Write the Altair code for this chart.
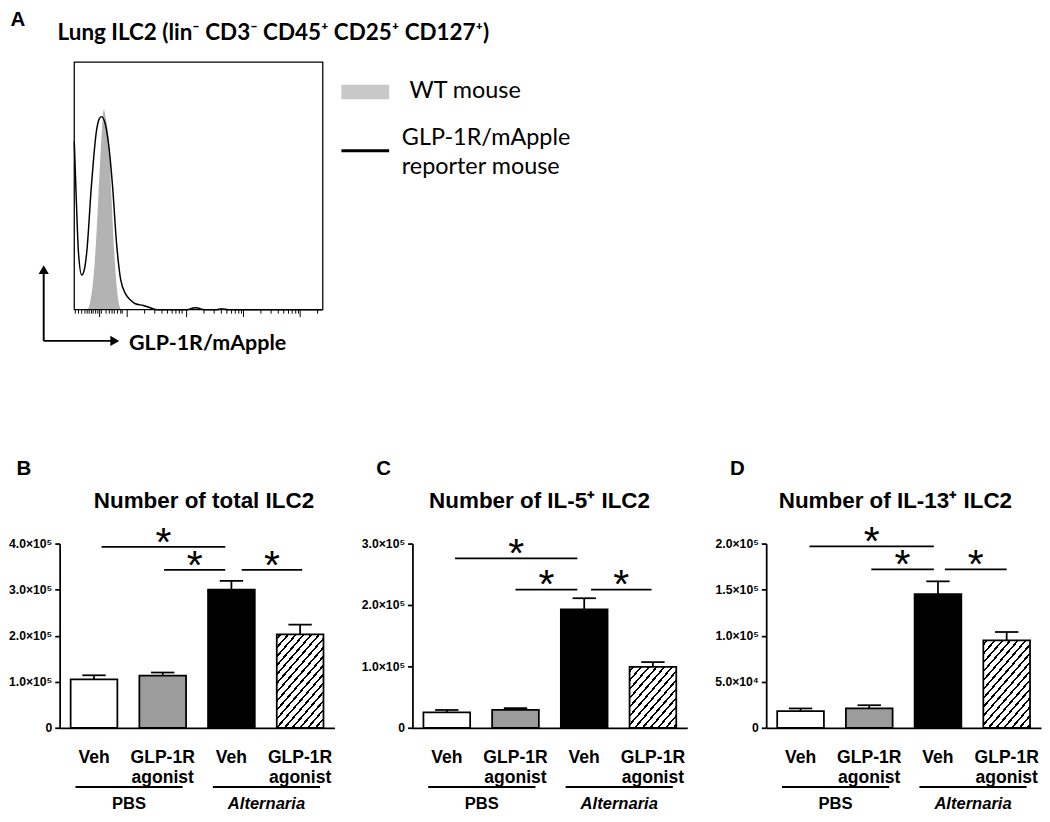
import json
import altair as alt
import pandas as pd

# ---------------- Panel A : flow histogram ----------------
wt_x = [5.5, 6.9, 8.0, 8.9, 10.2, 11.2, 11.9, 12.6, 14.1, 15.0, 16.1, 17.2, 18.7]
wt_y = [0.0, 0.06, 0.16, 0.30, 0.56, 0.74, 0.81, 0.78, 0.65, 0.45, 0.23, 0.08, 0.0]

rep_x = [0, 0.8, 1.7, 3.0, 4.0, 5.0, 6.9, 8.9, 10.0, 10.9, 12.2, 13.8, 15.4, 17.0,
         18.7, 20.7, 22.5, 24.6, 27.8, 30.5, 33.1, 45.5, 47.5, 48.7, 50.0, 52.2,
         57.3, 59.2, 62.0, 100]
rep_y = [0.68, 0.45, 0.23, 0.14, 0.16, 0.23, 0.50, 0.72, 0.77, 0.78, 0.76, 0.67,
         0.50, 0.27, 0.12, 0.063, 0.04, 0.024, 0.017, 0.008, 0.0, 0.0, 0.006,
         0.008, 0.006, 0.0, 0.0, 0.004, 0.0, 0.0]

hist_minor_ticks = [0.4, 1.7, 3.0, 4.3, 5.2, 6.0, 6.9, 7.6, 8.6, 9.5, 10.9, 12.8,
                    14.1, 15.2, 16.1, 17.4, 18.7, 19.3,
                    28.3, 32.4, 35.3, 37.5, 39.4, 40.9, 42.3, 43.4,
                    52.2, 56.3, 59.2, 61.4, 63.3, 64.8, 66.2, 67.3,
                    75.1, 79.2, 82.1, 84.3, 86.2, 87.7, 89.1, 90.2, 97.9]
hist_major_ticks = [10.2, 21.3, 45.2, 68.1, 90.9]

panel_a_letter = "A"
panel_a_title = "Lung ILC2 (lin\u207b CD3\u207b CD45\u207a CD25\u207a CD127\u207a)"
panel_a_xlabel = "GLP-1R/mApple"
legend_wt = "WT mouse"
legend_rep = ["GLP-1R/mApple", "reporter mouse"]

# ---------------- Panels B-D : bar charts ----------------
treatments = ["Veh", "GLP-1R\nagonist", "Veh", "GLP-1R\nagonist"]
conditions = ["PBS", "Alternaria"]
bar_fills = ["white", "#9c9c9c", "black", "hatch"]

b_mean = [1.05e5, 1.13e5, 3.00e5, 2.03e5]
b_err = [0.09e5, 0.07e5, 0.19e5, 0.21e5]
c_mean = [2.5e4, 2.9e4, 1.93e5, 0.99e5]
c_err = [0.4e4, 0.3e4, 0.18e5, 0.08e5]
d_mean = [1.8e4, 2.1e4, 1.45e5, 0.95e5]
d_err = [0.3e4, 0.35e4, 0.14e5, 0.09e5]

b_ticks = [0, 100000, 200000, 300000, 400000]
b_tick_labels = ["0", "1.0\u00d710\u2075", "2.0\u00d710\u2075", "3.0\u00d710\u2075", "4.0\u00d710\u2075"]
c_ticks = [0, 100000, 200000, 300000]
c_tick_labels = ["0", "1.0\u00d710\u2075", "2.0\u00d710\u2075", "3.0\u00d710\u2075"]
d_ticks = [0, 50000, 100000, 150000, 200000]
d_tick_labels = ["0", "5.0\u00d710\u2074", "1.0\u00d710\u2075", "1.5\u00d710\u2075", "2.0\u00d710\u2075"]

# significance brackets (from bar index, to bar index, height)
b_br_x1 = [0.11, 1.02, 2.15]
b_br_x2 = [1.91, 1.91, 3.03]
b_br_y = [3.93e5, 3.43e5, 3.43e5]
c_br_x1 = [0.12, 1.00, 2.10]
c_br_x2 = [1.90, 1.90, 2.98]
c_br_y = [2.76e5, 2.25e5, 2.25e5]
d_br_x1 = [0.13, 1.03, 2.10]
d_br_x2 = [1.94, 1.94, 3.00]
d_br_y = [1.97e5, 1.72e5, 1.72e5]

ARIAL = "Liberation Sans"
CAL = "Lato"

# ---------------- helpers ----------------
def hatch_gradient(w_px, h_px, slope=1.15, spacing=6.0, thick=1.7):
    a = slope / h_px
    b = 1.0 / w_px
    k = (a + b) / (a * a + b * b)
    gx, gy = k * a, k * b
    L = (slope * w_px + h_px) / (1 + slope ** 2) ** 0.5
    n = L / spacing
    f = thick / L
    stops = [alt.GradientStop(offset=0, color="white")]
    j = 0
    while True:
        c = (j + 0.5) / n
        s0 = max(0.0, c - f / 2)
        if s0 >= 1:
            break
        s1 = min(1.0, c + f / 2)
        stops += [alt.GradientStop(offset=s0, color="white"),
                  alt.GradientStop(offset=s0, color="black"),
                  alt.GradientStop(offset=s1, color="black"),
                  alt.GradientStop(offset=s1, color="white")]
        j += 1
    stops.append(alt.GradientStop(offset=1, color="white"))
    return alt.Gradient(gradient="linear", stops=stops, x1=0, y1=0, x2=gx, y2=gy)


def bar_panel(letter, title, means, errs, ticks, tick_labels, br_x1, br_x2, br_y,
              letter_x, title_x):
    W, H = 282, 189
    ymax = ticks[-1]
    xs = alt.Scale(domain=[-0.5, 3.5], nice=False, zero=False)
    ys = alt.Scale(domain=[0, ymax], nice=False, zero=True)
    expr = "%s[indexof(%s, datum.value)]" % (json.dumps(tick_labels, ensure_ascii=False),
                                             json.dumps(ticks))
    yaxis = alt.Axis(values=ticks, labelExpr=expr, title=None, grid=False,
                     domainColor="black", domainWidth=1.8, tickColor="black",
                     tickWidth=1.8, tickSize=5, labelFont=ARIAL, labelFontWeight="bold",
                     labelFontSize=12.5, labelColor="black", labelPadding=3)
    xaxis = alt.Axis(title=None, labels=False, ticks=False, grid=False,
                     domainColor="black", domainWidth=1.8)

    def X(f):
        return alt.X(f, scale=xs, axis=xaxis)

    def Y(f):
        return alt.Y(f, scale=ys, axis=yaxis)

    df = pd.DataFrame({"i": list(range(4)), "mean": means, "err": errs, "fill": bar_fills})
    base = alt.Chart(df).transform_calculate(
        lo="datum.i - 0.34", hi="datum.i + 0.34", zero="0",
        top="datum.mean + datum.err", clo="datum.i - 0.17", chi="datum.i + 0.17")

    bars = base.transform_filter("datum.i < 3").mark_rect(
        stroke="black", strokeWidth=1.8).encode(
        x=X("lo:Q"), x2="hi:Q", y=Y("mean:Q"), y2="zero:Q",
        fill=alt.Fill("fill:N", scale=None))

    grad = hatch_gradient(0.68 * W / 4, means[3] / ymax * H)
    hatch = base.transform_filter("datum.i == 3").mark_rect(
        stroke="black", strokeWidth=1.8, fill=grad).encode(
        x=X("lo:Q"), x2="hi:Q", y=Y("mean:Q"), y2="zero:Q")

    err_v = base.mark_rule(color="black", strokeWidth=1.8).encode(
        x=X("i:Q"), y=Y("mean:Q"), y2="top:Q")
    err_c = base.mark_rule(color="black", strokeWidth=1.8).encode(
        x=X("clo:Q"), x2="chi:Q", y=Y("top:Q"))

    bdf = pd.DataFrame({"x1": br_x1, "x2": br_x2, "y": br_y})
    brk = alt.Chart(bdf).mark_rule(color="black", strokeWidth=1.8).encode(
        x=X("x1:Q"), x2="x2:Q", y=Y("y:Q"))
    stars = alt.Chart(bdf).transform_calculate(mid="(datum.x1 + datum.x2) / 2").mark_text(
        text="*", font=ARIAL, fontSize=42, baseline="alphabetic", dy=9, color="black").encode(
        x=X("mid:Q"), y=Y("y:Q"))

    tdf = pd.DataFrame({"i": list(range(4)), "label": treatments})
    tlab = alt.Chart(tdf).transform_calculate(ly=str(-0.163 * ymax)).mark_text(
        font=ARIAL, fontSize=18, fontWeight="bold", baseline="middle", lineBreak="\n",
        lineHeight=21, color="black").encode(
        x=X("i:Q"), y=Y("ly:Q"), text="label:N")

    gdf = pd.DataFrame({"g": conditions, "start": [0, 2], "end": [1, 3]})
    gbase = alt.Chart(gdf).transform_calculate(
        gx1="datum.start - 0.27", gx2="datum.end + 0.29",
        gm="(datum.start + datum.end) / 2 + 0.01",
        gy=str(-0.321 * ymax), gty=str(-0.415 * ymax))
    glines = gbase.mark_rule(color="black", strokeWidth=2).encode(
        x=X("gx1:Q"), x2="gx2:Q", y=Y("gy:Q"))
    glab1 = gbase.transform_filter("datum.start == 0").mark_text(
        font=ARIAL, fontSize=17, fontWeight="bold", baseline="middle", color="black").encode(
        x=X("gm:Q"), y=Y("gty:Q"), text="g:N")
    glab2 = gbase.transform_filter("datum.start == 2").mark_text(
        font=ARIAL, fontSize=17, fontWeight="bold", fontStyle="italic", baseline="middle",
        color="black").encode(x=X("gm:Q"), y=Y("gty:Q"), text="g:N")

    hdf = pd.DataFrame({"x": [letter_x, title_x], "y": [1.404 * ymax, 1.229 * ymax],
                        "t": [letter, title], "k": ["letter", "title"]})
    let_t = alt.Chart(hdf).transform_filter("datum.k == 'letter'").mark_text(
        font=ARIAL, fontSize=21, fontWeight="bold", baseline="middle", color="black").encode(
        x=X("x:Q"), y=Y("y:Q"), text="t:N")
    tit_t = alt.Chart(hdf).transform_filter("datum.k == 'title'").mark_text(
        font=ARIAL, fontSize=23, fontWeight="bold", baseline="middle", color="black").encode(
        x=X("x:Q"), y=Y("y:Q"), text="t:N")

    return alt.layer(bars, hatch, err_v, err_c, brk, stars, tlab, glines, glab1, glab2,
                     let_t, tit_t).properties(width=W, height=H)


# ---------------- Panel A chart ----------------
# plot origin aligned with panel B's y axis and with the page top;
# the flow frame itself spans x 0..100, y 0..1
hx = alt.Scale(domain=[-5.88, 100], nice=False, zero=False)
hy = alt.Scale(domain=[0, 1.2126], nice=False, zero=False)


def HX(f):
    return alt.X(f, scale=hx, axis=None)


def HY(f):
    return alt.Y(f, scale=hy, axis=None)


wt_df = pd.DataFrame({"x": wt_x, "y": wt_y})
rep_df = pd.DataFrame({"x": rep_x, "y": rep_y})

wt_area = alt.Chart(wt_df).mark_area(color="#b3b3b3", interpolate="monotone").encode(
    x=HX("x:Q"), y=HY("y:Q"))
rep_line = alt.Chart(rep_df).mark_line(color="black", strokeWidth=1.5,
                                       interpolate="monotone").encode(
    x=HX("x:Q"), y=HY("y:Q"))

frame = alt.Chart(pd.DataFrame({"x": [0], "x2": [100], "y": [0], "y2": [1]})).mark_rect(
    fill="white", fillOpacity=0, stroke="black", strokeWidth=1.3).encode(
    x=HX("x:Q"), x2="x2:Q", y=HY("y:Q"), y2="y2:Q")

tick_df = pd.DataFrame({"x": hist_minor_ticks + hist_major_ticks,
                        "len": [0.016] * len(hist_minor_ticks) + [0.03] * len(hist_major_ticks)})
ticks = alt.Chart(tick_df).transform_calculate(y0="0", y1="-datum.len").mark_rule(
    color="black", strokeWidth=1).encode(x=HX("x:Q"), y=HY("y0:Q"), y2="y1:Q")

arr_df = pd.DataFrame({"x": [-12.3, -12.3], "y": [-0.126, -0.126],
                       "x2": [-12.3, 16.0], "y2": [0.15, -0.126]})
arrows = alt.Chart(arr_df).mark_rule(color="black", strokeWidth=2).encode(
    x=HX("x:Q"), x2="x2:Q", y=HY("y:Q"), y2="y2:Q")
head_up = alt.Chart(pd.DataFrame({"x": [-12.3], "y": [0.162]})).mark_point(
    shape="triangle-up", filled=True, size=110, color="black", opacity=1).encode(
    x=HX("x:Q"), y=HY("y:Q"))
head_rt = alt.Chart(pd.DataFrame({"x": [16.3], "y": [-0.126]})).mark_point(
    shape="triangle-right", filled=True, size=110, color="black", opacity=1).encode(
    x=HX("x:Q"), y=HY("y:Q"))

a_text_df = pd.DataFrame({
    "x": [-22.7, -6.7, 22.0],
    "y": [1.171, 1.118, -0.134],
    "t": [panel_a_letter, panel_a_title, panel_a_xlabel],
    "k": ["letter", "title", "xlabel"]})
a_letter = alt.Chart(a_text_df).transform_filter("datum.k == 'letter'").mark_text(
    font=ARIAL, fontSize=21, fontWeight="bold", baseline="middle", color="black").encode(
    x=HX("x:Q"), y=HY("y:Q"), text="t:N")
a_title = alt.Chart(a_text_df).transform_filter("datum.k == 'title'").mark_text(
    font=CAL, fontSize=23, fontWeight="bold", baseline="middle", align="left",
    color="black").encode(x=HX("x:Q"), y=HY("y:Q"), text="t:N")
a_xlab = alt.Chart(a_text_df).transform_filter("datum.k == 'xlabel'").mark_text(
    font=CAL, fontSize=22, fontWeight="bold", baseline="middle", align="left",
    color="black").encode(x=HX("x:Q"), y=HY("y:Q"), text="t:N")

leg_rect = alt.Chart(pd.DataFrame({"x": [107.5], "x2": [126.7], "y": [0.909], "y2": [0.850]})).mark_rect(
    color="#c8c8c8").encode(x=HX("x:Q"), x2="x2:Q", y=HY("y:Q"), y2="y2:Q")
leg_line = alt.Chart(pd.DataFrame({"x": [107.5], "x2": [126.7], "y": [0.642]})).mark_rule(
    color="black", strokeWidth=3).encode(x=HX("x:Q"), x2="x2:Q", y=HY("y:Q"))
leg_text_df = pd.DataFrame({"x": [134.9, 131.8, 131.8], "y": [0.882, 0.693, 0.575],
                            "t": [legend_wt] + legend_rep})
leg_text = alt.Chart(leg_text_df).mark_text(
    font=CAL, fontSize=24, baseline="middle", align="left", color="black").encode(
    x=HX("x:Q"), y=HY("y:Q"), text="t:N")

panel_a = alt.layer(wt_area, rep_line, frame, ticks, arrows, head_up, head_rt, a_letter,
                    a_title, a_xlab, leg_rect, leg_line, leg_text).properties(
    width=270, height=308)

panel_b = bar_panel("B", "Number of total ILC2", b_mean, b_err, b_ticks, b_tick_labels,
                    b_br_x1, b_br_x2, b_br_y, -1.02, 1.6)
panel_c = bar_panel("C", "Number of IL-5\u207a ILC2", c_mean, c_err, c_ticks, c_tick_labels,
                    c_br_x1, c_br_x2, c_br_y, -0.92, 1.35)
panel_d = bar_panel("D", "Number of IL-13\u207a ILC2", d_mean, d_err, d_ticks, d_tick_labels,
                    d_br_x1, d_br_x2, d_br_y, -0.92, 1.38)

bottom = alt.hconcat(panel_b, panel_c, panel_d, spacing=26)
chart = alt.vconcat(panel_a, bottom, spacing=106).properties(
    padding={"top": -10, "bottom": -5, "left": 0, "right": 0},
    background="white").configure_view(stroke="transparent")

chart.save("out.html", embed_options={"renderer": "svg", "actions": False})
